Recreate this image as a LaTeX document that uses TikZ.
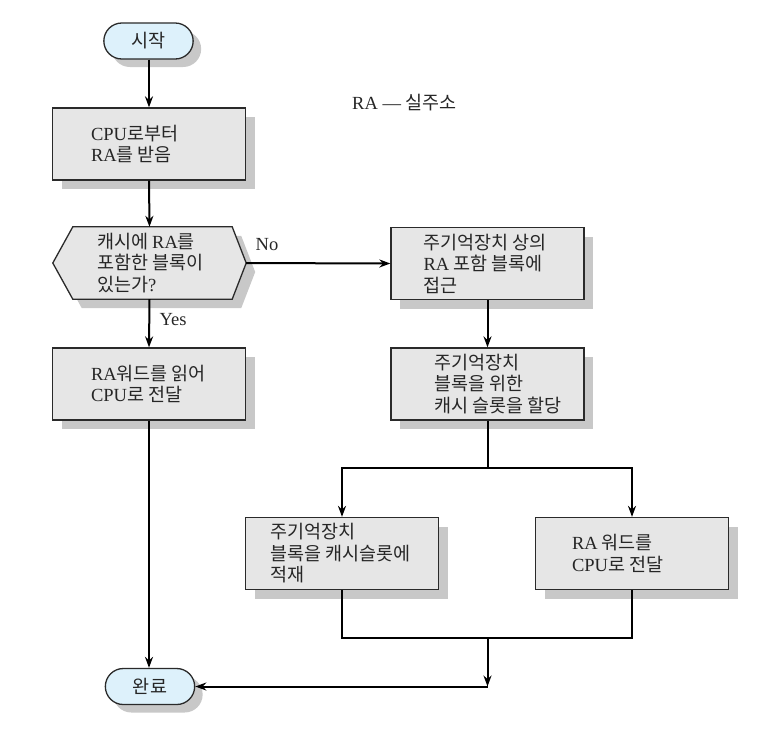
\documentclass[tikz,border=0pt]{standalone}
\usepackage{fontspec}
\setmainfont{Liberation Serif}
\newfontfamily\krfont{Noto Sans CJK KR}[Scale=1.0]
\newcommand\kr[1]{{\krfont #1}}
\usetikzlibrary{shapes.misc,shadows,arrows.meta,calc}
\definecolor{boxfill}{HTML}{E6E6E6}
\definecolor{shadowc}{HTML}{C8C8C8}
\definecolor{termfill}{HTML}{DDF1FB}
\definecolor{edgec}{HTML}{2A2A2A}
\begin{document}
\begin{tikzpicture}[x=1pt,y=-1pt,
  every node/.style={font=\fontsize{18.5}{21.5}\selectfont, text=black!85},
  box/.style={draw=edgec, line width=1.3pt, fill=boxfill, minimum width=193pt, minimum height=72pt,
    general shadow={fill=shadowc, shadow xshift=9pt, shadow yshift=-9pt}},
  term/.style={rounded rectangle, draw=edgec, line width=1.3pt, fill=termfill, minimum width=96pt, minimum height=36pt,
    general shadow={fill=shadowc, shadow xshift=8pt, shadow yshift=-8pt}},
  txt/.style={anchor=west, align=left, inner sep=0pt},
  arr/.style={line width=2pt, -{Stealth[length=11pt,width=8pt]}},
  ln/.style={line width=2pt}]
\useasboundingbox (0,0) rectangle (759,732);

% terminals
\node[term] (start) at (148.5,41) {\kr{시작}};
\node[term] (end) at (150,686.5) {\kr{완료}};

% left column
\node[box] (b1) at (149,144) {};
\node[txt] at ([xshift=39pt]b1.west) {CPU\kr{로부터}\\RA\kr{를 받음}};

% hexagon decision
\node[minimum width=193pt, minimum height=72pt, inner sep=0pt] (hex) at (149.5,263) {};
\fill[shadowc] ([shift={(9,9)}]hex.west) -- ([shift={(29,9)}]hex.north west) -- ([shift={(-5,9)}]hex.north east)
  -- ([shift={(9,9)}]hex.east) -- ([shift={(-5,9)}]hex.south east) -- ([shift={(29,9)}]hex.south west) -- cycle;
\draw[draw=edgec, line width=1.3pt, fill=boxfill] (hex.west) -- ([xshift=20pt]hex.north west) -- ([xshift=-14pt]hex.north east)
  -- (hex.east) -- ([xshift=-14pt]hex.south east) -- ([xshift=20pt]hex.south west) -- cycle;
\node[txt] at ([xshift=44pt]hex.west) {\kr{캐시에 }RA\kr{를}\\\kr{포함한 블록이}\\\kr{있는가}?};

\node[box] (b2) at (149,384) {};
\node[txt] at ([xshift=39pt]b2.west) {RA\kr{워드를 읽어}\\CPU\kr{로 전달}};

% right column
\node[box] (r1) at (487.5,263.5) {};
\node[txt] at ([xshift=33pt]r1.west) {\kr{주기억장치 상의}\\RA\kr{ 포함 블록에}\\\kr{접근}};

\node[box] (r2) at (487.5,384) {};
\node[txt] at ([xshift=44pt]r2.west) {\kr{주기억장치}\\\kr{블록을 위한}\\\kr{캐시 슬롯을 할당}};

\node[box] (l3) at (342,553.5) {};
\node[txt] at ([xshift=25pt]l3.west) {\kr{주기억장치}\\\kr{블록을 캐시슬롯에}\\\kr{적재}};

\node[box] (r3) at (632,553.5) {};
\node[txt] at ([xshift=37pt]r3.west) {RA\kr{ 워드를}\\CPU\kr{로 전달}};

% title
\node[anchor=west, inner sep=0pt] (title) at (352,103) {RA — \kr{실주소}};

% labels
\node[inner sep=0pt] (no) at (267,245) {No};
\node[inner sep=0pt] (yes) at (173,320) {Yes};

% connectors
\coordinate (split) at (487.5,468);
\coordinate (merge) at (487.5,638);
\coordinate (corner) at (487.5,686.5);

\draw[arr] (start.south -| b1.north) -- (b1.north);
\draw[arr] (b1.south) -- (hex.north);
\draw[arr] (hex.east) -- (r1.west);
\draw[arr] (hex.south) -- (b2.north);
\draw[arr] (b2.south) -- (b2.south |- end.north);
\draw[arr] (r1.south) -- (r2.north);
\draw[ln] (r2.south) -- (split);
\draw[arr] (split) -| (l3.north);
\draw[arr] (split) -| (r3.north);
\draw[ln] (l3.south) |- (merge) -| (r3.south);
\draw[arr] (merge) -- (corner);
\draw[arr] (corner) -- (end.east);
\end{tikzpicture}
\end{document}
